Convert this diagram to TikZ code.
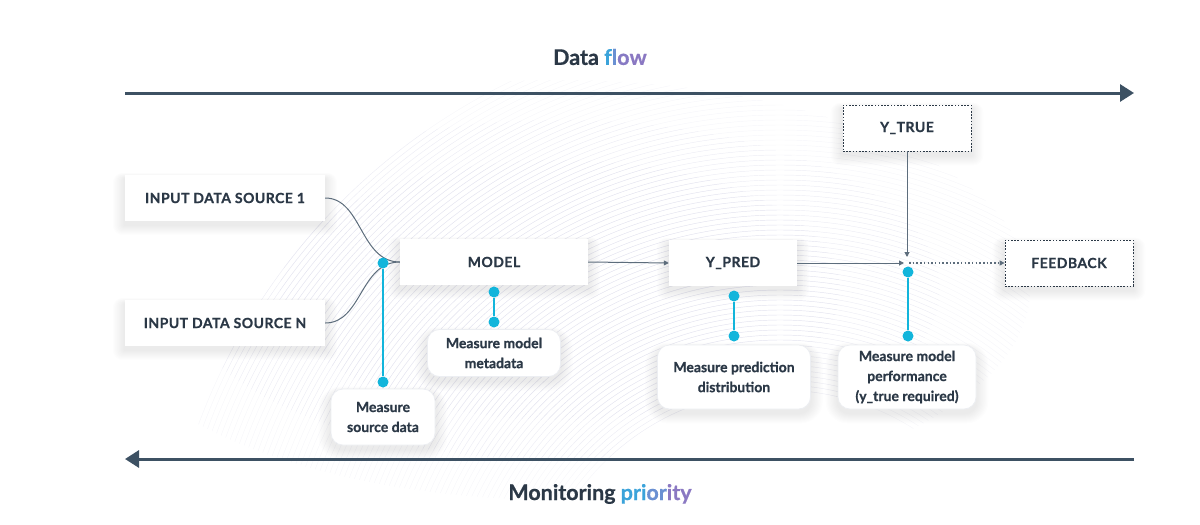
\documentclass[tikz,border=0pt]{standalone}
\usepackage{fontspec}
\setmainfont{Lato}[BoldFeatures={FakeBold=0.7}]
\newfontfamily\capsfont{Lato}[LetterSpace=3.5,BoldFeatures={FakeBold=0.7}]
\usetikzlibrary{arrows.meta,calc}
\pgfdeclarelayer{bg}
\pgfsetlayers{bg,main}
\definecolor{ink}{HTML}{2B3846}
\definecolor{arrowc}{HTML}{3D5163}
\definecolor{linkc}{HTML}{5D6D7C}
\definecolor{cyanM}{HTML}{12B5DB}
\definecolor{bluef}{HTML}{3BA3DA}
\definecolor{purpf}{HTML}{8A78C2}
\definecolor{midf}{HTML}{6A90D2}
\definecolor{lav}{HTML}{A8A8CC}
\definecolor{edgec}{HTML}{ECEEF2}
\tikzset{
  box/.style={fill=white, minimum height=46pt, inner sep=0pt,
    font=\capsfont\bfseries\fontsize{14}{16}\selectfont, text=ink},
  dotbox/.style={box, draw=ink, line width=0.8pt, dash pattern=on 1.6pt off 1.6pt},
  tag/.style={fill=white, draw=edgec, line width=0.7pt, rounded corners=12pt,
    inner sep=0pt, align=center, text=ink,
    font=\bfseries\fontsize{14}{20}\selectfont},
  mdot/.style={circle, fill=cyanM, inner sep=0pt, minimum size=11pt},
  meas/.style={draw=cyanM, line width=2.6pt},
  link/.style={draw=linkc, line width=1pt},
  arr/.style={link, -{Triangle[length=5pt,width=5pt]}},
  darr/.style={draw=linkc, line width=1.2pt, dash pattern=on 1.5pt off 2.2pt, -{Triangle[length=5pt,width=5pt]}},
  bigarr/.style={draw=arrowc, line width=3pt, -{Triangle[length=14pt,width=17pt]}},
  title/.style={font=\bfseries\fontsize{21.5}{24}\selectfont, text=ink}
}
\newcommand{\softshadow}[2]{% node, corner radius
  \foreach \k in {1,...,10}{
    \fill[black, opacity=0.007, rounded corners=#2+\k*1pt]
      ($(#1.south west)+(-\k*1.2,\k*1.0+4)$) rectangle ($(#1.north east)+(\k*1.2,-\k*0.6+4)$);
  }
}
\begin{document}
\begin{tikzpicture}[x=1pt,y=-1pt]
\useasboundingbox (0,0) rectangle (1200,525);
% title arrows
\node[title] (tt) at (600,57) {Data \textcolor{bluef}{f}\textcolor{midf}{l}\textcolor{purpf!90!midf}{o}\textcolor{purpf}{w}};
\coordinate (ta) at (125,93);
\coordinate (tb) at (1134,93);
\draw[bigarr] (ta) -- (tb);
\coordinate (ba) at (1134,459);
\coordinate (bb) at (125,459);
\draw[bigarr] (ba) -- (bb);
\node[title] (bt) at (600,494) {Monitoring \textcolor{bluef}{pri}\textcolor{midf}{or}\textcolor{purpf}{ity}};
% boxes
\node[box, minimum width=200pt] (in1) at (225,198) {INPUT DATA SOURCE 1};
\node[box, minimum width=200pt] (inN) at (225,323) {INPUT DATA SOURCE N};
\node[box, minimum width=188pt] (model) at (494,262) {MODEL};
\node[box, minimum width=128pt] (ypred) at (733,263) {Y\_PRED};
\node[dotbox, minimum width=128pt] (ytrue) at (907,128) {Y\_TRUE};
\node[dotbox, minimum width=128pt] (fb) at (1069,263) {FEEDBACK};
% measure tags
\node[tag, minimum width=104pt, minimum height=56pt] (t1) at (383,417) {Measure\\source data};
\node[tag, minimum width=133pt, minimum height=47pt] (t2) at (494,353) {Measure model\\metadata};
\node[tag, minimum width=153pt, minimum height=64pt] (t3) at (734,377) {Measure prediction\\distribution};
\node[tag, minimum width=138pt, minimum height=64pt] (t4) at (907,377) {Measure model\\performance\\(y\_true required)};
% background layer: pattern and shadows
\begin{pgfonlayer}{bg}
  \foreach \op/\rx/\ry in {0.10/470/210, 0.12/380/170, 0.14/280/130}{
    \begin{scope}
      \clip (560,290) ellipse [x radius=\rx, y radius=\ry];
      \foreach \r in {250,255,...,620}{
        \draw[lav, line width=0.45pt, opacity=\op] (780,640) circle [radius=\r];
      }
    \end{scope}
  }
  \foreach \n in {in1,inN,model,ypred,ytrue,fb}{\softshadow{\n}{0pt}}
  \foreach \n in {t1,t2,t3,t4}{\softshadow{\n}{12pt}}
\end{pgfonlayer}
% connectors
\draw[link] (in1.east) .. controls (362,198) and (360,262) .. (model.west);
\draw[link] (inN.east) .. controls (362,323) and (360,262) .. (model.west);
\coordinate (jn) at (907,263);
\draw[arr] (model.east) -- (ypred.west);
\draw[arr, shorten >=3pt] (ypred.east) -- (jn);
\draw[arr, shorten >=6pt] (ytrue.south) -- (jn);
\draw[darr, shorten <=2pt] (jn) -- (fb.west);
% measure stems
\node[mdot] (d1a) at (383,263) {};
\node[mdot] (d1b) at (383,382) {};
\draw[meas] (d1a) -- (d1b);
\node[mdot] (d2a) at (494,292) {};
\node[mdot] (d2b) at (494,322) {};
\draw[meas] (d2a) -- (d2b);
\node[mdot] (d3a) at (734,296) {};
\node[mdot] (d3b) at (734,336) {};
\draw[meas] (d3a) -- (d3b);
\node[mdot] (d4a) at (908,272) {};
\node[mdot] (d4b) at (908,336) {};
\draw[meas] (d4a) -- (d4b);
\end{tikzpicture}
\end{document}
